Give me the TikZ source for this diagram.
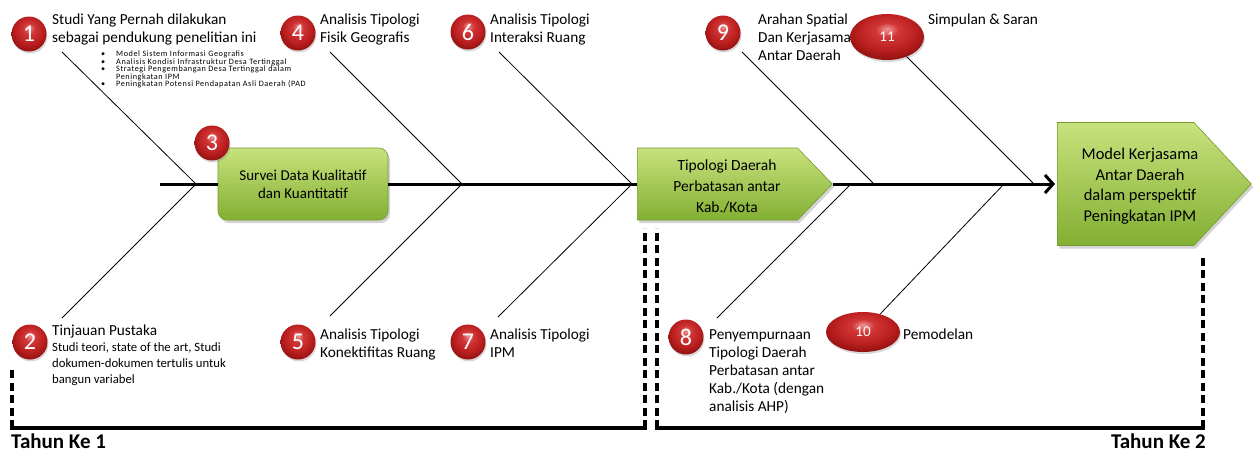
\documentclass[tikz,border=0pt]{standalone}
\usepackage{fontspec}
\setmainfont{Carlito}
\usetikzlibrary{shapes.geometric,shapes.symbols,shadows,arrows.meta}
\definecolor{gtop}{RGB}{200,226,125}
\definecolor{gbot}{RGB}{130,175,50}
\definecolor{gborder}{RGB}{115,155,45}
\pgfdeclareradialshading{redball}{\pgfpoint{0bp}{9bp}}{%
  rgb(0bp)=(0.94,0.58,0.58); rgb(8bp)=(0.82,0.21,0.21); rgb(20bp)=(0.73,0.12,0.12);
  rgb(30bp)=(0.55,0.06,0.06); rgb(50bp)=(0.43,0.04,0.04)}
\tikzset{
  numc/.style={circle, minimum size=35pt, inner sep=0pt, shading=redball,
    text=white, font=\fontsize{24}{24}\selectfont,
    drop shadow={opacity=0.3, shadow xshift=1pt, shadow yshift=-2pt}},
  nume/.style={ellipse, minimum width=74pt, inner sep=0pt, shading=redball,
    text=white, font=\fontsize{15}{15}\selectfont,
    drop shadow={opacity=0.3, shadow xshift=1pt, shadow yshift=-2pt}},
  lbl/.style={anchor=north west, inner sep=0pt, align=left, font=\fontsize{15.3}{17.8}\selectfont},
  greenbox/.style={draw=gborder, line width=0.6pt, top color=gtop, bottom color=gbot,
    drop shadow={opacity=0.35, shadow xshift=2pt, shadow yshift=-3pt}, align=center, inner sep=2pt},
  boxtext/.style={align=center, inner sep=0pt},
  bone/.style={line width=0.8pt},
  spine/.style={line width=3pt},
  yrdash/.style={line width=3.5pt, dash pattern=on 8pt off 4.5pt},
  yrsolid/.style={line width=3.5pt, line cap=rect},
  yrlbl/.style={inner sep=0pt, font=\fontsize{21}{21}\selectfont\bfseries}
}
\begin{document}
\begin{tikzpicture}[x=1pt,y=-1pt]
\useasboundingbox (0,0) rectangle (1253,459);

% junctions on spine and free bone ends
\coordinate (s0) at (160,184);
\coordinate (j1) at (196,184);
\coordinate (j2) at (462,184);
\coordinate (j3) at (632,184);
\coordinate (j8) at (851,184);
\coordinate (j9) at (874,184);
\coordinate (j10) at (1004,184);
\coordinate (j11) at (1034,184);
\coordinate (b1) at (62,52);
\coordinate (b2) at (62,318);
\coordinate (b4) at (330,52);
\coordinate (b5) at (330,316);
\coordinate (b6) at (499,52);
\coordinate (b7) at (498,317);
\coordinate (b8) at (717,318);
\coordinate (b9) at (742,52);

% boxes
\node[greenbox, rounded corners=9pt, minimum width=170pt, minimum height=72pt,
  font=\fontsize{15}{18}\selectfont] (surv) at (303,184) {Survei Data Kualitatif\\dan Kuantitatif};
\node[greenbox, signal, signal to=east, signal pointer angle=92, minimum width=195pt,
  minimum height=72pt, anchor=west] (tipo) at (637,184) {};
\node[boxtext, font=\fontsize{15.5}{21}\selectfont] (tipotxt) at (727,186)
  {Tipologi Daerah\\Perbatasan antar\\Kab./Kota};
\node[greenbox, signal, signal to=east, signal pointer angle=94, minimum width=194pt,
  minimum height=123pt, anchor=west] (model) at (1057,184) {};
\node[boxtext, font=\fontsize{16.5}{20.5}\selectfont] (modeltxt) at (1140,186)
  {Model Kerjasama\\Antar Daerah\\dalam perspektif\\Peningkatan IPM};

% spine
\draw[spine] (s0) -- (surv.west);
\draw[spine] (surv.east) -- (tipo.west);
\draw[spine, -{Straight Barb[length=8pt, width=18pt]}, shorten >=2pt] (tipo.east) -- (model.west);

% numbered markers
\node[numc] (c1) at (29,34) {1};
\node[numc] (c2) at (30,342) {2};
\node[numc] (c3) at (212,143) {3};
\node[numc] (c4) at (298,33) {4};
\node[numc] (c5) at (298,342) {5};
\node[numc] (c6) at (468,32) {6};
\node[numc] (c7) at (468,342) {7};
\node[numc] (c8) at (686,337) {8};
\node[numc] (c9) at (723,33) {9};
\node[nume, minimum height=40pt] (c10) at (863,332) {10};
\node[nume, minimum height=46pt] (c11) at (887,37) {11};

% bones
\draw[bone] (b1) -- (j1);
\draw[bone] (b2) -- (j1);
\draw[bone] (b4) -- (j2);
\draw[bone] (b5) -- (j2);
\draw[bone] (b6) -- (j3);
\draw[bone] (b7) -- (j3);
\draw[bone] (b8) -- (j8);
\draw[bone] (b9) -- (j9);
\draw[bone] (c10) -- (j10);
\draw[bone] (c11) -- (j11);

% labels
\node[lbl] (t1) at (52,14) {Studi Yang Pernah dilakukan\\sebagai pendukung penelitian ini};
\node[lbl, font=\fontsize{8.2}{7.5}\selectfont\addfontfeature{LetterSpace=7}] (t1b) at (101,51)
  {\makebox[15pt][l]{\textbullet}Model Sistem Informasi Geografis\\
   \makebox[15pt][l]{\textbullet}Analisis Kondisi Infrastruktur Desa Tertinggal\\
   \makebox[15pt][l]{\textbullet}Strategi Pengembangan Desa Tertinggal dalam\\
   \hspace*{15pt}Peningkatan IPM\\
   \makebox[15pt][l]{\textbullet}Peningkatan Potensi Pendapatan Asli Daerah (PAD};
\node[lbl] (t4) at (320,14) {Analisis Tipologi\\Fisik Geografis};
\node[lbl] (t6) at (490,14) {Analisis Tipologi\\Interaksi Ruang};
\node[lbl] (t9) at (758,14) {Arahan Spatial\\Dan Kerjasama\\Antar Daerah};
\node[lbl] (t11) at (928,14) {Simpulan \& Saran};
\node[lbl] (t2) at (52,325) {Tinjauan Pustaka};
\node[lbl, font=\fontsize{12.7}{16}\selectfont] (t2b) at (52,342)
  {Studi teori, state of the art, Studi\\dokumen-dokumen tertulis untuk\\bangun variabel};
\node[lbl] (t5) at (320,329) {Analisis Tipologi\\Konektifitas Ruang};
\node[lbl] (t7) at (490,329) {Analisis Tipologi\\IPM};
\node[lbl, font=\fontsize{15.3}{18.2}\selectfont] (t8) at (709,329)
  {Penyempurnaan\\Tipologi Daerah\\Perbatasan antar\\Kab./Kota (dengan\\analisis AHP)};
\node[lbl] (t10) at (903,329) {Pemodelan};

% year brackets
\coordinate (y1a) at (12,370);
\coordinate (y1b) at (12,428);
\coordinate (y1c) at (645,428);
\coordinate (y1d) at (645,228);
\coordinate (y2a) at (657,228);
\coordinate (y2b) at (657,428);
\coordinate (y2c) at (1203,428);
\coordinate (y2d) at (1203,258);
\draw[yrdash] (y1b) -- (y1a);
\draw[yrsolid] (y1b) -- (y1c);
\draw[yrdash] (y1c) -- (y1d);
\draw[yrdash] (y2b) -- (y2a);
\draw[yrsolid] (y2b) -- (y2c);
\draw[yrdash] (y2c) -- (y2d);
\node[yrlbl, anchor=north west] (yr1) at (11,434) {Tahun Ke 1};
\node[yrlbl, anchor=north east] (yr2) at (1206,434) {Tahun Ke 2};
\end{tikzpicture}
\end{document}
